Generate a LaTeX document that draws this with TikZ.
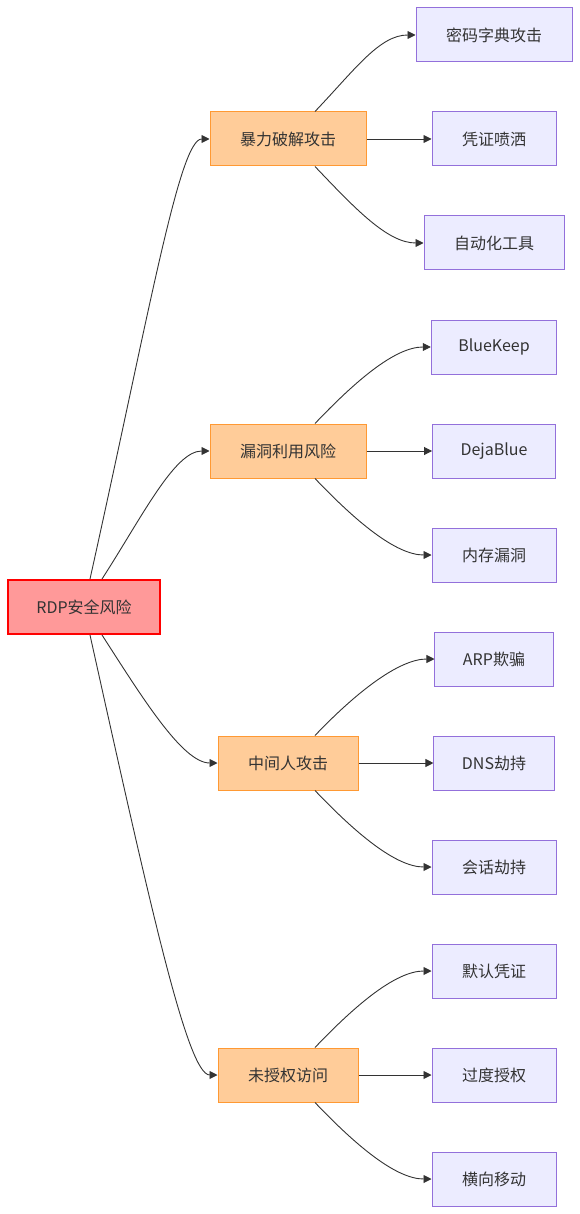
\documentclass[tikz,border=0pt]{standalone}
\usepackage{fontspec}
\setmainfont{Noto Sans CJK SC}
\usetikzlibrary{arrows.meta}
\definecolor{inkgray}{HTML}{333333}
\definecolor{rootfill}{HTML}{FF9999}
\definecolor{rootline}{HTML}{FF0000}
\definecolor{riskfill}{HTML}{FFCC99}
\definecolor{riskline}{HTML}{FF9933}
\definecolor{leaffill}{HTML}{ECECFF}
\definecolor{leafline}{HTML}{9370DB}
\tikzset{
  box/.style={
    draw,
    minimum height=54pt,
    inner xsep=30pt,
    inner ysep=0pt,
    text=inkgray,
    font=\fontsize{16}{19}\selectfont
  },
  rootbox/.style={box, fill=rootfill, draw=rootline, line width=2pt},
  riskbox/.style={box, fill=riskfill, draw=riskline, line width=1pt},
  leafbox/.style={box, fill=leaffill, draw=leafline, line width=1pt},
  latin/.style={inner xsep=28pt},
  edge/.style={-{Triangle[length=8pt,width=8pt]}, draw=inkgray, line width=0.9pt}
}
\newcommand{\fanout}[4]{
  \draw[edge] ([xshift=27pt]#1.north) .. controls +(40,-42) and +(-36,0) .. (#2.west);
  \draw[edge] (#1.east) -- (#3.west);
  \draw[edge] ([xshift=27pt]#1.south) .. controls +(40,42) and +(-36,0) .. (#4.west);
}

\begin{document}
\begin{tikzpicture}[x=1pt, y=-1pt]
  \useasboundingbox (0,0) rectangle (580,1214);

  \node[rootbox, latin] (rdp) at (84,607) {RDP安全风险};

  % second level
  \node[riskbox] (brute) at (288,139) {暴力破解攻击};
  \node[riskbox] (vuln) at (288,451) {漏洞利用风险};
  \node[riskbox] (mitm) at (288,763) {中间人攻击};
  \node[riskbox] (unauth) at (288,1075) {未授权访问};

  % leaves
  \node[leafbox] (dict) at (494,35) {密码字典攻击};
  \node[leafbox] (spray) at (494,139) {凭证喷洒};
  \node[leafbox] (autotool) at (494,243) {自动化工具};
  \node[leafbox, inner xsep=27pt] (bluekeep) at (494,347) {BlueKeep};
  \node[leafbox, latin] (dejablue) at (494,451) {DejaBlue};
  \node[leafbox] (memvuln) at (494,555) {内存漏洞};
  \node[leafbox, latin] (arp) at (494,659) {ARP欺骗};
  \node[leafbox, latin] (dns) at (494,763) {DNS劫持};
  \node[leafbox] (session) at (494,867) {会话劫持};
  \node[leafbox] (defcred) at (494,971) {默认凭证};
  \node[leafbox] (overpriv) at (494,1075) {过度授权};
  \node[leafbox] (lateral) at (494,1179) {横向移动};

  \draw[edge] ([xshift=6pt]rdp.north) .. controls +(60,-270) and +(-30,0) .. (brute.west);
  \draw[edge] ([xshift=18pt]rdp.north) .. controls +(40,-62) and +(-35,0) .. (vuln.west);
  \draw[edge] ([xshift=18pt]rdp.south) .. controls +(40,62) and +(-35,0) .. (mitm.west);
  \draw[edge] ([xshift=6pt]rdp.south) .. controls +(60,270) and +(-30,0) .. (unauth.west);

  \fanout{brute}{dict}{spray}{autotool}
  \fanout{vuln}{bluekeep}{dejablue}{memvuln}
  \fanout{mitm}{arp}{dns}{session}
  \fanout{unauth}{defcred}{overpriv}{lateral}

\end{tikzpicture}
\end{document}
